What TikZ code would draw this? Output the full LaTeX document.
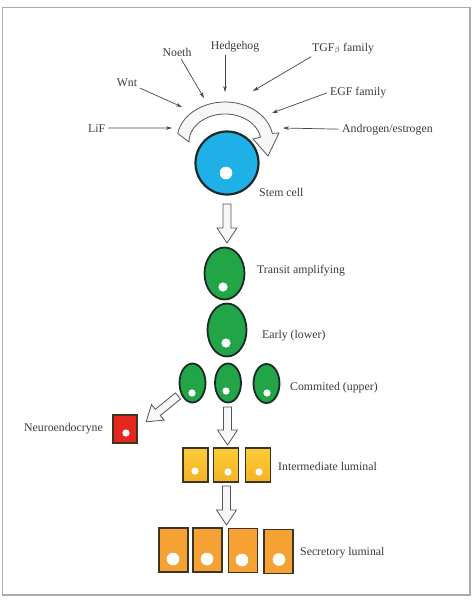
\documentclass[tikz,border=0pt]{standalone}
\usepackage{fontspec}
\setmainfont{Liberation Serif}
\usetikzlibrary{arrows.meta,shapes.geometric}
\definecolor{txt}{HTML}{3A3A3A}
\definecolor{sigc}{HTML}{444444}
\definecolor{rim}{HTML}{1B2A28}
\definecolor{boxrim}{HTML}{3E3424}
\definecolor{stemfill}{HTML}{1FB0E8}
\definecolor{greenfill}{HTML}{21A546}
\definecolor{redfill}{HTML}{E5261E}
\definecolor{yeltop}{HTML}{FBCD38}
\definecolor{yelbot}{HTML}{F5B224}
\definecolor{orfill}{HTML}{F5A133}
\definecolor{framec}{HTML}{AAAAAA}
\definecolor{arrfill}{HTML}{F6F7F7}
\definecolor{arrline}{HTML}{555555}
\tikzset{
  lab/.style={font=\fontsize{11.8}{13}\selectfont, text=txt, inner sep=1pt},
  sig/.style={draw=sigc, line width=0.7pt, -{Stealth[length=6pt,width=3.6pt]}, shorten <=2pt},
  blockarr/.style={fill=arrfill, draw=arrline, line width=0.8pt, line join=miter},
  greencell/.style={ellipse, draw=rim, line width=1.8pt, fill=greenfill, inner sep=0pt},
  nucleus/.style={fill=white},
  yelbox/.style={rectangle, draw=boxrim, line width=1.3pt, top color=yeltop, bottom color=yelbot, inner sep=0pt, minimum width=25pt, minimum height=34pt},
  orbox/.style={rectangle, draw=boxrim, line width=1.3pt, fill=orfill, inner sep=0pt, minimum width=29pt, minimum height=44pt},
  barrow/.pic={\draw[blockarr] (-4,0) -- (4,0) -- (4,#1-15) -- (10,#1-15) -- (0,#1) -- (-10,#1-15) -- (-4,#1-15) -- cycle;}
}
\begin{document}
\begin{tikzpicture}[x=1pt,y=-1pt]
\useasboundingbox (0,0) rectangle (474,600);
\draw[draw=framec, line width=1.5pt] (2.5,7.5) rectangle (470,595);

% ---- signal labels ----
\node[lab, anchor=base] (noeth) at (177,56) {Noeth};
\node[lab, anchor=base] (hedge) at (235,49) {Hedgehog};
\node[lab, anchor=base west] (tgf) at (311,51) {TGF$_{\beta}$ family};
\node[lab, anchor=base] (wnt) at (127,86) {Wnt};
\node[lab, anchor=base west] (egf) at (329,95) {EGF family};
\node[lab, anchor=base west] (lif) at (87,132) {LiF};
\node[lab, anchor=base west] (andro) at (341,132) {Androgen/estrogen};

\coordinate (nE) at (204,98);
\coordinate (hE) at (225,92);
\coordinate (tE) at (253,91);
\coordinate (wE) at (182,107);
\coordinate (eE) at (272,113);
\coordinate (lE) at (172,128);
\coordinate (aE) at (283,128);

\draw[sig] (noeth) -- (nE);
\draw[sig] (hedge.south -| hE) -- (hE);
\draw[sig] ([xshift=2pt]tgf.south west) -- (tE);
\draw[sig] (wnt) -- (wE);
\draw[sig] (egf.west) -- (eE);
\draw[sig] (lif.east) -- (lE);
\draw[sig] (andro.west) -- (aE);

% ---- stem cell ----
\node[circle, draw=rim, line width=2.2pt, fill=stemfill, minimum size=63pt, inner sep=0pt] (stem) at (227,163) {};
\fill[nucleus] (226,173) circle[radius=6.3];
\node[lab, anchor=base west] (stemlab) at (258,196) {Stem cell};

% ---- curved self-renewal arrow ----
\filldraw[blockarr] plot[domain=190:350,samples=60] ({225+48*cos(\x)},{140+38*sin(\x)})
  -- (279,133) -- (268,156) -- (253,139)
  -- plot[domain=350:180,samples=60] ({225+36*cos(\x)},{142+28*sin(\x)}) -- cycle;

% ---- stem -> transit ----
\pic at (227,204) {barrow=39};

% ---- transit amplifying ----
\node[greencell, minimum width=40pt, minimum height=52pt] (ta) at (224.5,273.5) {};
\fill[nucleus] (223,287) circle[radius=4.6];
\node[lab, anchor=base west] (talab) at (256,273) {Transit amplifying};

% ---- early ----
\node[greencell, minimum width=39pt, minimum height=53pt] (early) at (227,330) {};
\fill[nucleus] (226,343) circle[radius=4.6];
\node[lab, anchor=base west] (earlylab) at (261,338) {Early (lower)};

% ---- committed ----
\node[greencell, minimum width=26pt, minimum height=39pt] (c1) at (192.5,383) {};
\node[greencell, minimum width=26pt, minimum height=39pt] (c2) at (228,383) {};
\node[greencell, minimum width=26pt, minimum height=39pt] (c3) at (266.5,383.5) {};
\fill[nucleus] (192,393) circle[radius=3.6];
\fill[nucleus] (226,391) circle[radius=3.6];
\fill[nucleus] (267,393) circle[radius=3.6];
\node[lab, anchor=base west] (comlab) at (289,390) {Commited (upper)};

% ---- neuroendocrine ----
\pic[rotate=-51] at (178,396) {barrow=41};
\node[rectangle, draw=boxrim, line width=1.3pt, fill=redfill, minimum width=24pt, minimum height=28pt, inner sep=0pt] (neuro) at (125,429) {};
\fill[nucleus] (126,433) circle[radius=3.6];
\node[lab, anchor=base west] (neurolab) at (23,431) {Neuroendocryne};

% ---- committed -> intermediate ----
\pic at (227.5,407) {barrow=38};

% ---- intermediate luminal ----
\node[yelbox] (i1) at (195.5,465) {};
\node[yelbox] (i2) at (226,465) {};
\node[yelbox] (i3) at (258,465) {};
\fill[nucleus] (195,471) circle[radius=3.6];
\fill[nucleus] (228,472) circle[radius=3.6];
\fill[nucleus] (259,472) circle[radius=3.6];
\node[lab, anchor=base west] (intlab) at (277,470) {Intermediate luminal};

% ---- intermediate -> secretory ----
\pic at (226.5,486) {barrow=39};

% ---- secretory luminal ----
\node[orbox] (s1) at (173.5,550) {};
\node[orbox] (s2) at (207.5,550) {};
\node[orbox] (s3) at (243,550.5) {};
\node[orbox] (s4) at (278.5,551.5) {};
\fill[nucleus] (173,559) circle[radius=6.3];
\fill[nucleus] (207,559) circle[radius=6.3];
\fill[nucleus] (242,560) circle[radius=6.3];
\fill[nucleus] (279,559.5) circle[radius=6.3];
\node[lab, anchor=base west] (seclab) at (299,555) {Secretory luminal};
\end{tikzpicture}
\end{document}
